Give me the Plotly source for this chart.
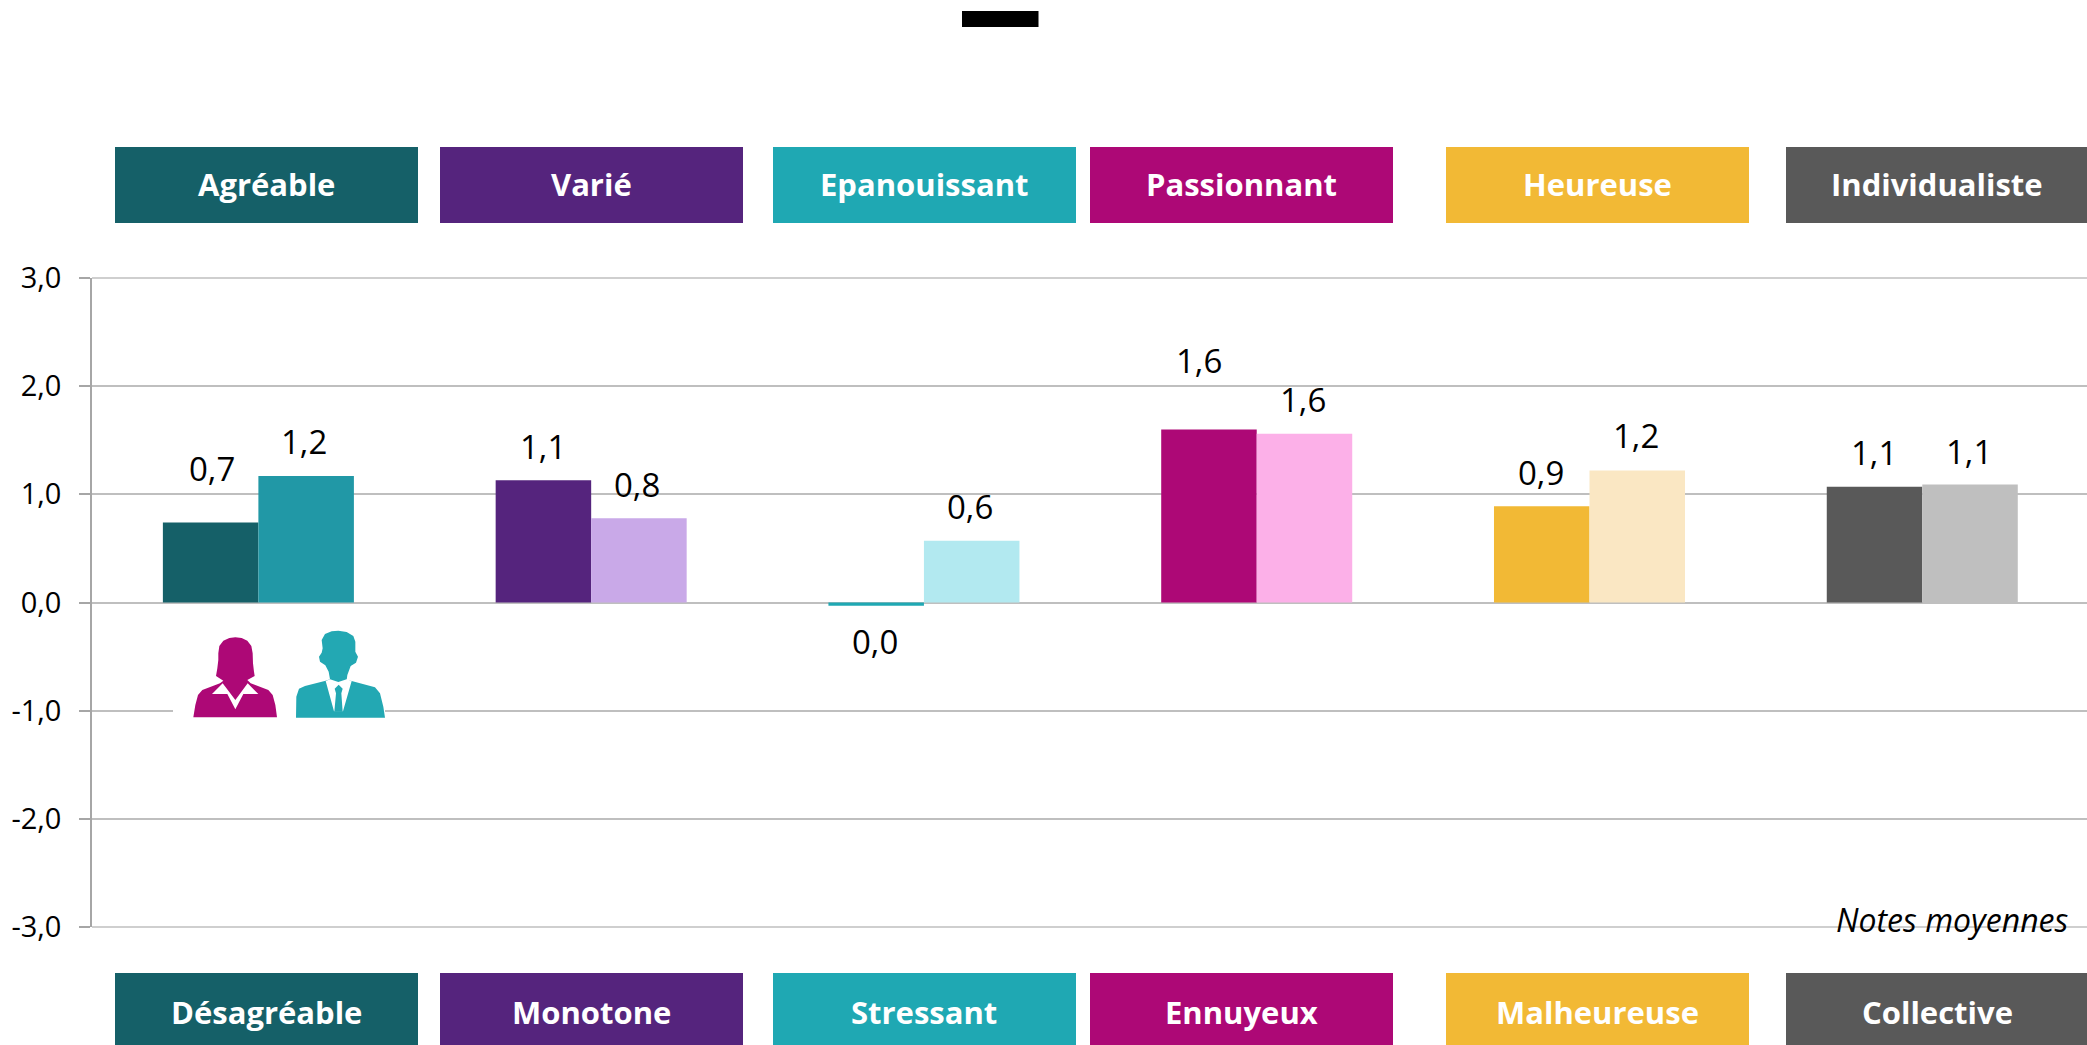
import plotly.graph_objects as go

categories = ["Agréable", "Varié", "Epanouissant", "Passionnant", "Heureuse", "Individualiste"]
opposites = ["Désagréable", "Monotone", "Stressant", "Ennuyeux", "Malheureuse", "Collective"]
femmes = [0.74, 1.13, -0.03, 1.60, 0.89, 1.07]
hommes = [1.17, 0.78, 0.57, 1.56, 1.22, 1.09]
labels_femmes = ["0,7", "1,1", "0,0", "1,6", "0,9", "1,1"]
labels_hommes = ["1,2", "0,8", "0,6", "1,6", "1,2", "1,1"]
tick_values = [3, 2, 1, 0, -1, -2, -3]
tick_labels = ["3,0", "2,0", "1,0", "0,0", "-1,0", "-2,0", "-3,0"]

colors_femmes = ["#156068", "#55247D", "#1FA8B3", "#AD0876", "#F2B935", "#595959"]
colors_hommes = ["#2198A6", "#C9A9E8", "#B2E9F0", "#FCB0E8", "#FAE7C3", "#BFBFBF"]
box_colors = ["#156068", "#55247D", "#1FA8B3", "#AD0876", "#F2B935", "#595959"]
box_left = [115, 440, 773, 1090, 1446, 1786]
BOX_W = 303

W, H = 2087, 1045
L, R, T, B = 92, 2087, 278, 927
FONT = "Open Sans"
GRID = "#BFBFBF"


def px(x):
    return (x - L) / (R - L)


def py(y):
    return (B - y) / (B - T)


def zoom_poly(points, color):
    """Icon outline, given in pixels of the page."""
    pts = [(130 + a / 3, 400 + b / 3) for a, b in points]
    path = "M " + " L ".join(f"{px(a):.5f} {py(b):.5f}" for a, b in pts) + " Z"
    return dict(type="path", xref="paper", yref="paper", path=path,
                fillcolor=color, line=dict(width=0), layer="above")


def rect(x0, y0, x1, y1, color):
    return dict(type="rect", xref="paper", yref="paper", x0=px(x0), x1=px(x1),
                y0=py(y0), y1=py(y1), fillcolor=color, line=dict(width=0), layer="above")


fig = go.Figure()
fig.add_bar(x=categories, y=femmes, marker=dict(color=colors_femmes, line=dict(width=0)),
            name="Femmes", showlegend=False)
fig.add_bar(x=categories, y=hommes, marker=dict(color=colors_hommes, line=dict(width=0)),
            name="Hommes", showlegend=False)

shapes = []
annotations = []

# the gridlines at both ends of the range, which the axis does not draw itself
for edge in (0, 1):
    shapes.append(dict(type="line", xref="paper", yref="paper", x0=0, x1=1, y0=edge, y1=edge,
                       line=dict(color=GRID, width=1.5), layer="below"))

# black mark on top
shapes.append(rect(962, 11, 1038.5, 27, "#000000"))

# header and footer boxes
for i, left in enumerate(box_left):
    shapes.append(rect(left, 147, left + BOX_W, 223, box_colors[i]))
    shapes.append(rect(left, 973, left + BOX_W, 1045, box_colors[i]))
    for text, yc in ((categories[i], 184.5), (opposites[i], 1011.5)):
        annotations.append(dict(xref="paper", yref="paper", x=px(left + BOX_W / 2 - 0.5), y=py(yc),
                                text=f"<b>{text}</b>", showarrow=False, xanchor="center",
                                yanchor="middle",
                                font=dict(family=FONT, size=31, color="#FFFFFF")))

# data labels
shift_f = [(1, 54), (0, 34), (-1, -36), (-10, 69), (-1, 34), (-1, 34)]
shift_h = [(-2, 34), (-2, 34), (-2, 34), (-1, 34), (-1, 35), (-1, 33)]
for i, c in enumerate(categories):
    for vals, labs, shifts, side in ((femmes, labels_femmes, shift_f, -47.75),
                                     (hommes, labels_hommes, shift_h, 47.75)):
        annotations.append(dict(x=c, y=vals[i], text=labs[i], showarrow=False,
                                xanchor="center", yanchor="middle",
                                xshift=side + shifts[i][0], yshift=shifts[i][1],
                                font=dict(family=FONT, size=33, color="#000000")))

# note
annotations.append(dict(xref="paper", yref="paper", x=px(2071), y=py(919), text="<i>Notes moyennes</i>",
                        showarrow=False, xanchor="right", yanchor="middle",
                        font=dict(family=FONT, size=32, color="#000000")))

# icons: white patch interrupting the gridline, then silhouettes
shapes.append(rect(173, 690, 385, 725, "#FFFFFF"))
woman = [(265, 760), (268, 738), (280, 722), (298, 714), (316, 712), (335, 714), (352, 722), (364, 738),
         (368, 760), (369, 790), (372, 815), (374, 828), (352, 840), (362, 850), (415, 870), (428, 885),
         (436, 915), (441, 952), (190, 952), (196, 915), (204, 885), (217, 870), (270, 850), (280, 842),
         (258, 828), (262, 805), (265, 780)]
shapes.append(zoom_poly(woman, "#AD0876"))
shapes.append(zoom_poly([(278, 850), (246, 882), (292, 882), (316, 928), (340, 882), (385, 882), (353, 850),
                         (316, 900)], "#FFFFFF"))
man = [(578, 745), (575, 720), (585, 702), (605, 694), (625, 692), (650, 696), (670, 708), (676, 725),
       (676, 755), (684, 770), (678, 788), (662, 798), (652, 825), (650, 840), (665, 843), (735, 862), (750, 880),
       (760, 920), (765, 953), (498, 953), (499, 890), (507, 866), (525, 858), (587, 842), (600, 838), (596, 815),
       (586, 796), (570, 785), (567, 770), (575, 758)]
shapes.append(zoom_poly(man, "#23A8B3"))
shapes.append(zoom_poly([(587, 843), (612, 934), (639, 934), (665, 843), (650, 838), (625, 846), (600, 838)],
                        "#FFFFFF"))
shapes.append(zoom_poly([(614, 866), (626, 854), (638, 866), (634, 880), (638, 935), (613, 935), (618, 880)],
                        "#23A8B3"))

fig.update_layout(
    width=W, height=H, autosize=False,
    margin=dict(l=L, r=W - R, t=T, b=H - B, pad=0),
    paper_bgcolor="#FFFFFF", plot_bgcolor="#FFFFFF",
    barmode="group", bargap=0.426, bargroupgap=0,
    shapes=shapes, annotations=annotations,
    font=dict(family=FONT, color="#000000"),
    xaxis=dict(type="category", showticklabels=False, showgrid=False, zeroline=False,
               showline=False, ticks="", range=[-0.5, 5.495]),
    yaxis=dict(range=[-3, 3], tickvals=tick_values, ticktext=tick_labels, showgrid=True,
               gridcolor=GRID, gridwidth=1.5, zeroline=True, zerolinecolor=GRID,
               zerolinewidth=1.5, showline=True, linecolor="#A6A6A6", linewidth=1.5,
               ticks="outside", ticklen=11, tickcolor="#A6A6A6", tickwidth=1.5,
               ticklabelstandoff=12, tickfont=dict(family=FONT, size=29, color="#000000")),
)

fig.write_html("out.html", config=dict(displayModeBar=False),
               post_script="document.body.style.margin='0';document.documentElement.style.overflow='hidden';")
